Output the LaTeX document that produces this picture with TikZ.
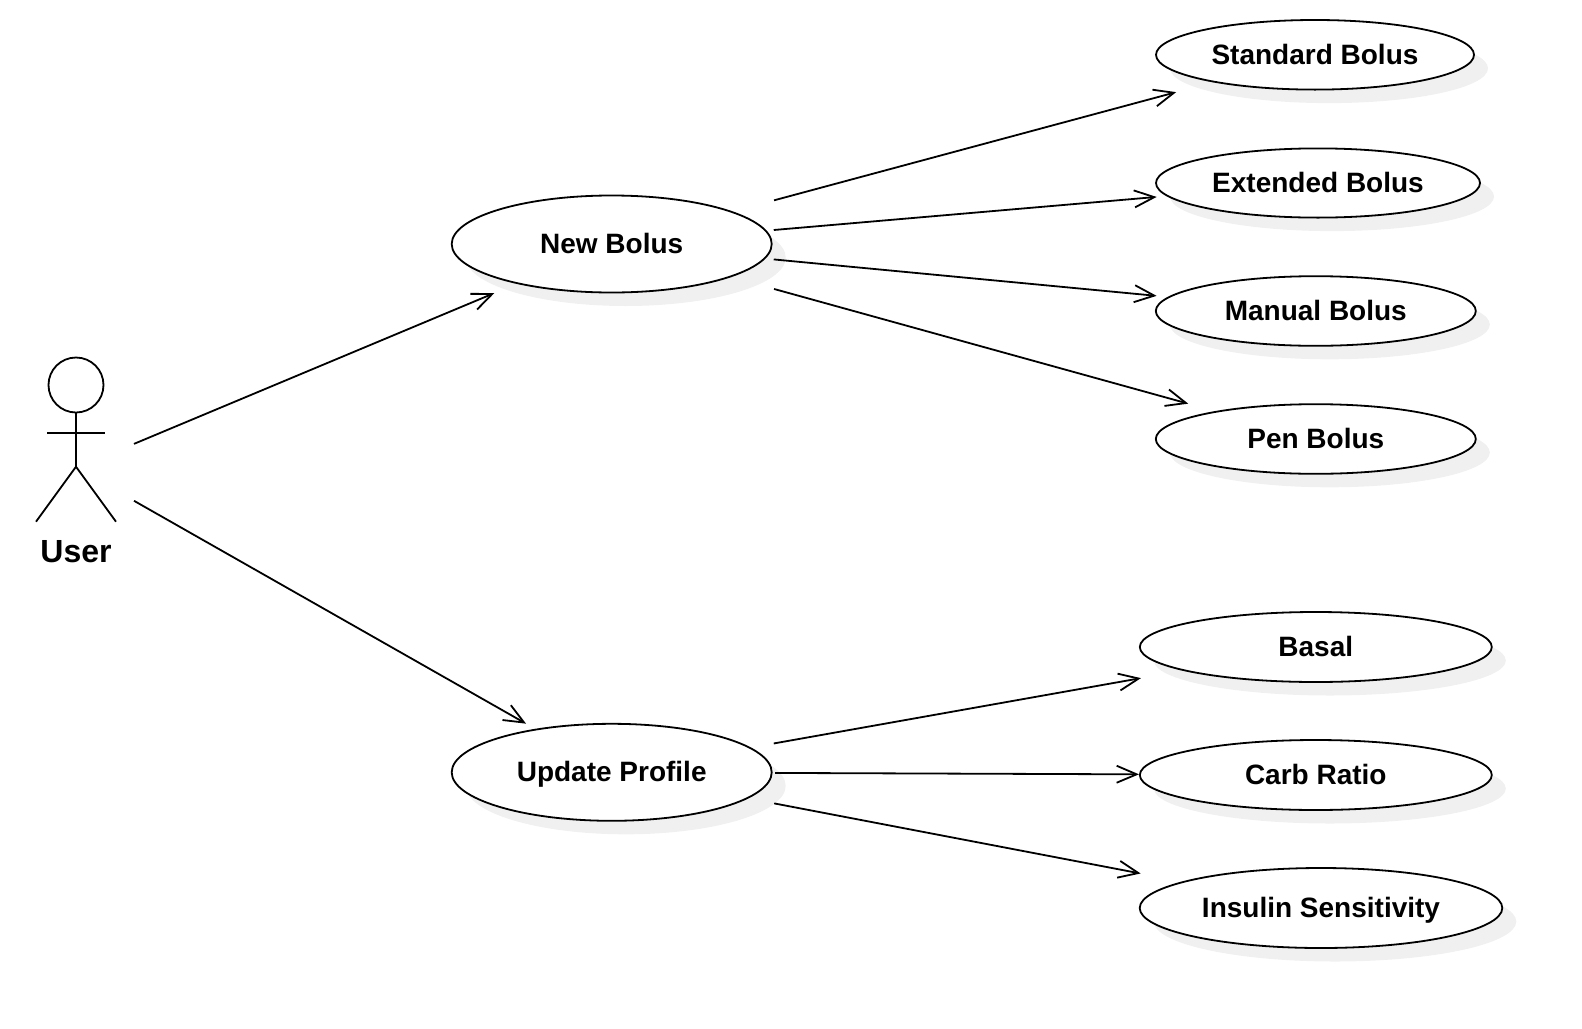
\documentclass[tikz,border=0pt]{standalone}
\usepackage{fontspec}
\setmainfont{Liberation Sans}
\usetikzlibrary{arrows.meta,shapes.geometric,shadows}

\begin{document}
\begin{tikzpicture}[x=1pt,y=-1pt]
\tikzstyle{usecase}=[ellipse, draw=black, line width=1.8pt, fill=white, inner sep=0pt, text height=19pt, text depth=0pt, font=\fontsize{28}{32}\selectfont\bfseries, drop shadow={shadow xshift=14pt, shadow yshift=-13.5pt, fill=black!6, opacity=1}]
\tikzstyle{big}=[minimum width=320pt, minimum height=97pt]
\tikzstyle{connect}=[-{Straight Barb[length=20pt,width=17pt]}, line width=1.8pt]
\tikzstyle{stick}=[line width=1.8pt]
\useasboundingbox (0,0) rectangle (1582,1028);

  % actor
  \node[minimum width=116pt, minimum height=221pt, inner sep=0pt, outer sep=0pt] (user) at (76,468) {};
  \node[font=\fontsize{32}{36}\selectfont\bfseries, inner sep=0pt] (userlabel) at (76,552) {User};
  \node[circle, draw=black, line width=1.8pt, minimum size=55pt, inner sep=0pt] (head) at (76,385) {};
  \coordinate (hip) at (76,466.7);
  \coordinate (armleft) at (47.2,433.3);
  \coordinate (armright) at (104.8,433.3);
  \coordinate (footleft) at (36,521.7);
  \coordinate (footright) at (116,521.7);
  \draw[stick] (head) -- (hip);
  \draw[stick] (armleft) -- (armright);
  \draw[stick] (footleft) -- (hip) -- (footright);

  % use cases
  \node[usecase, big] (newbolus) at (611.7,244) {New Bolus};
  \node[usecase, big] (updateprofile) at (611.7,772.3) {Update Profile};
  \node[usecase, minimum width=318pt, minimum height=69.6pt] (standard) at (1315,54.8) {Standard Bolus};
  \node[usecase, minimum width=324pt, minimum height=69.2pt] (extended) at (1318,183) {Extended Bolus};
  \node[usecase, minimum width=320pt, minimum height=69.6pt] (manual) at (1315.8,311) {Manual Bolus};
  \node[usecase, minimum width=320pt, minimum height=69.6pt] (pen) at (1315.8,439) {Pen Bolus};
  \node[usecase, minimum width=352pt, minimum height=70pt] (basal) at (1315.8,647) {Basal};
  \node[usecase, minimum width=352pt, minimum height=70pt] (carb) at (1315.8,775) {Carb Ratio};
  \node[usecase, minimum width=362.6pt, minimum height=80pt] (insulin) at (1321,908) {Insulin Sensitivity};

  % the arrows stop at the boxes round the ellipses
  \draw[connect, shorten >=24pt] (user) -- (newbolus);
  \draw[connect, shorten >=10.5pt] (user) -- (updateprofile);
  \draw[connect, shorten <=42.8pt, shorten >=38pt] (newbolus) -- (standard);
  \draw[connect, shorten <=7.2pt, shorten >=10pt] (newbolus) -- (extended);
  \draw[connect, shorten <=8.4pt, shorten >=11.4pt] (newbolus) -- (manual);
  \draw[connect, shorten <=44.5pt, shorten >=28pt] (newbolus) -- (pen);
  \draw[connect, shorten <=23.2pt, shorten >=42.5pt] (updateprofile) -- (basal);
  \draw[connect, shorten <=2.5pt] (updateprofile) -- (carb);
  \draw[connect, shorten <=26.4pt, shorten >=42.5pt] (updateprofile) -- (insulin);
\end{tikzpicture}
\end{document}
